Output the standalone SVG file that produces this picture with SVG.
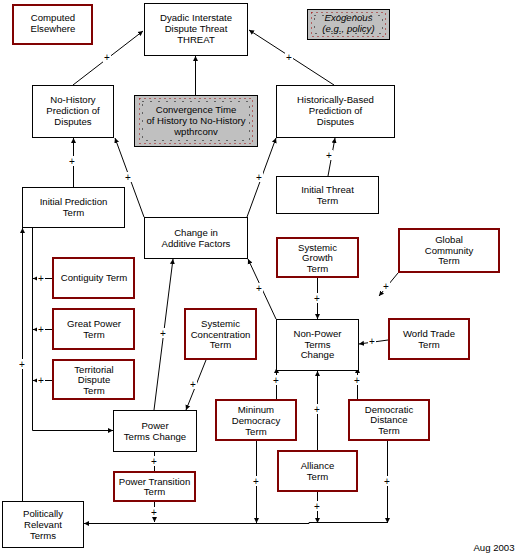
<svg xmlns="http://www.w3.org/2000/svg" width="521" height="555" viewBox="0 0 521 555">
<style>
text{font-family:"Liberation Sans",Arial,sans-serif;font-size:9.6px;fill:#000;text-anchor:middle}
.b{fill:#fff;stroke:#000;stroke-width:1}
.r{fill:#fff;stroke:#800000;stroke-width:2}
.g{fill:#c0c0c0;stroke:#000;stroke-width:1}
.dr{fill:none;stroke:#a00000;stroke-width:1;stroke-dasharray:1 4}
.dk{fill:none;stroke:#000;stroke-width:1;stroke-dasharray:1 7}
#connectors path{fill:none;stroke:#000;stroke-width:1}
.a{marker-end:url(#ah)}
.bg{fill:#fff;stroke:none}
.p{font-size:10px}
.all{opacity:0.99}
</style>
<defs>
<marker id="ah" markerUnits="userSpaceOnUse" markerWidth="6" markerHeight="6" refX="5" refY="3" orient="auto">
<path d="M0,0.5 L5,3 L0,5.5 z" fill="#000"/>
</marker>
</defs>
<rect width="521" height="555" fill="#fff"/>
<g class="all">
<g id="connectors">
<path class="a" d="M73,85 L143,31"/>
<path class="a" d="M334,85 L249,30"/>
<path class="a" d="M195.5,95 V56"/>
<path class="a" d="M144,217 L115,138"/>
<path class="a" d="M247,217 L276,138"/>
<path class="a" d="M73.5,187 V138"/>
<path class="a" d="M328,176 L335,138"/>
<path class="a" d="M276,319 L248,259"/>
<path class="a" d="M317.5,278 V319"/>
<path class="a" d="M398,273 L379,296"/>
<path class="a" d="M388,340 L359,344"/>
<path class="a" d="M276.5,399 V368"/>
<path class="a" d="M317.5,450 V371"/>
<path class="a" d="M357.5,399 V368"/>
<path class="a" d="M206,360 L186,410"/>
<path class="a" d="M154,410 L173,259"/>
<path class="a" d="M32.5,228 V430.5 H113"/>
<path class="a" d="M22.5,501 V228"/>
<path class="a" d="M52,278.5 H33"/>
<path class="a" d="M52,329.5 H33"/>
<path class="a" d="M52,380.5 H33"/>
<path d="M154.5,451 V471"/>
<path class="a" d="M154.5,502 V522"/>
<path class="a" d="M388,522.5 H309 V523.5 H84"/>
<path class="a" d="M256.5,441 V523"/>
<path class="a" d="M317.5,492 V523"/>
<path class="a" d="M387.5,441 V523"/>
<g class="bg">
<rect x="103" y="52" width="8" height="10"/>
<rect x="285" y="52" width="8" height="10"/>
<rect x="124" y="172" width="8" height="10"/>
<rect x="255" y="172" width="8" height="10"/>
<rect x="68" y="156" width="8" height="10"/>
<rect x="325" y="150" width="8" height="10"/>
<rect x="255" y="283" width="8" height="10"/>
<rect x="313" y="293" width="8" height="10"/>
<rect x="382" y="281" width="8" height="10"/>
<rect x="368" y="336" width="8" height="10"/>
<rect x="272" y="375" width="8" height="10"/>
<rect x="313" y="404" width="8" height="10"/>
<rect x="353" y="375" width="8" height="10"/>
<rect x="189" y="379" width="8" height="10"/>
<rect x="159" y="328" width="8" height="10"/>
<rect x="18" y="359" width="8" height="10"/>
<rect x="37" y="273" width="8" height="10"/>
<rect x="37" y="324" width="8" height="10"/>
<rect x="37" y="375" width="8" height="10"/>
<rect x="150" y="456" width="8" height="10"/>
<rect x="150" y="507" width="8" height="10"/>
<rect x="252" y="476" width="8" height="10"/>
<rect x="313" y="501" width="8" height="10"/>
<rect x="383" y="476" width="8" height="10"/>
</g>
<text class="p" x="107" y="61">+</text>
<text class="p" x="289" y="61">+</text>
<text class="p" x="128" y="181">+</text>
<text class="p" x="259" y="181">+</text>
<text class="p" x="72" y="165">+</text>
<text class="p" x="329" y="159">+</text>
<text class="p" x="259" y="292">+</text>
<text class="p" x="317" y="302">+</text>
<text class="p" x="386" y="290">+</text>
<text class="p" x="372" y="345">+</text>
<text class="p" x="276" y="384">+</text>
<text class="p" x="317" y="413">+</text>
<text class="p" x="357" y="384">+</text>
<text class="p" x="193" y="388">+</text>
<text class="p" x="163" y="337">+</text>
<text class="p" x="22" y="368">+</text>
<text class="p" x="41" y="282">+</text>
<text class="p" x="41" y="333">+</text>
<text class="p" x="41" y="384">+</text>
<text class="p" x="154" y="465">+</text>
<text class="p" x="154" y="516">+</text>
<text class="p" x="256" y="485">+</text>
<text class="p" x="317" y="510">+</text>
<text class="p" x="387" y="485">+</text>
</g>

<g id="computed"><rect class="r" x="13" y="5" width="79" height="39"/><text x="53" y="21">Computed</text><text x="53" y="32">Elsewhere</text></g>
<g id="threat"><rect class="b" x="144.5" y="3.5" width="103" height="52"/><text x="196" y="21">Dyadic Interstate</text><text x="196" y="32">Dispute Threat</text><text x="196" y="42.5">THREAT</text></g>
<g id="exogenous"><rect class="g" x="307.5" y="9.5" width="82" height="30"/><rect class="dr" x="311.5" y="12.5" width="74" height="24"/><rect class="dk" x="314.5" y="15.5" width="68" height="18"/><text x="348.5" y="21" font-style="italic">Exogenous</text><text x="348.5" y="32" font-style="italic">(e.g., policy)</text></g>
<g id="nohistory"><rect class="b" x="32.5" y="85.5" width="81" height="52"/><text x="73" y="103">No-History</text><text x="73" y="114">Prediction of</text><text x="73" y="125">Disputes</text></g>
<g id="convergence"><rect class="g" x="134.5" y="95.5" width="123" height="51"/><rect class="dr" x="139.5" y="98.5" width="113" height="45"/><rect class="dk" x="142.5" y="101.5" width="107" height="39"/><text x="196" y="112.5">Convergence Time</text><text x="196" y="124">of History to No-History</text><text x="196" y="135">wpthrconv</text></g>
<g id="historical"><rect class="b" x="276.5" y="85.5" width="118" height="52"/><text x="335.5" y="103">Historically-Based</text><text x="335.5" y="114">Prediction of</text><text x="335.5" y="125">Disputes</text></g>
<g id="initialprediction"><rect class="b" x="22.5" y="187.5" width="102" height="40"/><text x="73.5" y="204.5">Initial Prediction</text><text x="73.5" y="215.5">Term</text></g>
<g id="additive"><rect class="b" x="144.5" y="217.5" width="103" height="41"/><text x="196" y="235.5">Change in</text><text x="196" y="246.5">Additive Factors</text></g>
<g id="initialthreat"><rect class="b" x="276.5" y="176.5" width="102" height="37"/><text x="327.5" y="192.5">Initial Threat</text><text x="327.5" y="203.5">Term</text></g>
<g id="systemicgrowth"><rect class="r" x="277" y="238" width="81" height="39"/><text x="317.5" y="250.5">Systemic</text><text x="317.5" y="261">Growth</text><text x="317.5" y="271.5">Term</text></g>
<g id="globalcommunity"><rect class="r" x="399" y="229" width="100" height="43"/><text x="449" y="243">Global</text><text x="449" y="253.5">Community</text><text x="449" y="264">Term</text></g>
<g id="contiguity"><rect class="r" x="53" y="258" width="81" height="40"/><text x="94" y="281">Contiguity Term</text></g>
<g id="greatpower"><rect class="r" x="53" y="309" width="81" height="40"/><text x="94" y="326.5">Great Power</text><text x="94" y="337.5">Term</text></g>
<g id="territorial"><rect class="r" x="53" y="360" width="81" height="39"/><text x="94" y="372.5">Territorial</text><text x="94" y="383">Dispute</text><text x="94" y="393.5">Term</text></g>
<g id="systemicconcentration"><rect class="r" x="185" y="309" width="71" height="50"/><text x="220.5" y="326.5">Systemic</text><text x="220.5" y="337.5">Concentration</text><text x="220.5" y="347.5">Term</text></g>
<g id="nonpower"><rect class="b" x="276.5" y="319.5" width="82" height="51"/><text x="317.5" y="336.5">Non-Power</text><text x="317.5" y="347.5">Terms</text><text x="317.5" y="358">Change</text></g>
<g id="worldtrade"><rect class="r" x="389" y="319" width="80" height="40"/><text x="429" y="336.5">World Trade</text><text x="429" y="347.5">Term</text></g>
<g id="powerterms"><rect class="b" x="113.5" y="410.5" width="83" height="41"/><text x="155" y="428.5">Power</text><text x="155" y="439.5">Terms Change</text></g>
<g id="mindemocracy"><rect class="r" x="216" y="400" width="80" height="40"/><text x="256" y="412.5">Mininum</text><text x="256" y="423.5">Democracy</text><text x="256" y="434.5">Term</text></g>
<g id="demdistance"><rect class="r" x="349" y="400" width="80" height="40"/><text x="389" y="412.5">Democratic</text><text x="389" y="423">Distance</text><text x="389" y="433.5">Term</text></g>
<g id="alliance"><rect class="r" x="278" y="451" width="79" height="40"/><text x="317.5" y="468.5">Alliance</text><text x="317.5" y="479.5">Term</text></g>
<g id="powertransition"><rect class="r" x="114" y="472" width="81" height="29"/><text x="154.5" y="484.5">Power Transition</text><text x="154.5" y="494.5">Term</text></g>
<g id="politicallyrelevant"><rect class="b" x="2.5" y="501.5" width="81" height="46"/><text x="43" y="516.5">Politically</text><text x="43" y="527.5">Relevant</text><text x="43" y="538.5">Terms</text></g>
<text x="494" y="551">Aug 2003</text>
</g>
</svg>
